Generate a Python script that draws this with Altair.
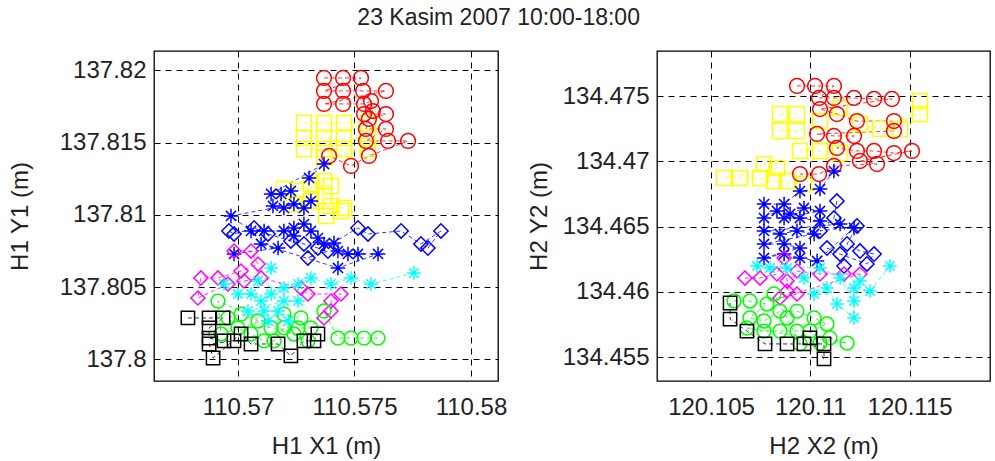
import altair as alt
import pandas as pd

TITLE = "23 Kasim 2007 10:00-18:00"

# ---- H1 (left panel) values, metres ----
RED_X1 = [110.57369, 110.57451, 110.57528, 110.57369, 110.57451, 110.57537, 110.57635, 110.57369, 110.57451, 110.57541,
          110.57571, 110.57579, 110.57541, 110.57635, 110.57562, 110.57549, 110.57635, 110.57549, 110.57644, 110.57730,
          110.57562, 110.57485, 110.57391]
RED_Y1 = [137.81947, 137.81947, 137.81947, 137.81857, 137.81857, 137.81857, 137.81857, 137.81767, 137.81767, 137.81767,
          137.81787, 137.81718, 137.81697, 137.81697, 137.81663, 137.81594, 137.81594, 137.81511, 137.81511, 137.81511,
          137.81407, 137.81338, 137.81407]

YEL_X1 = [110.57283, 110.57369, 110.57455, 110.57558, 110.57283, 110.57369, 110.57455, 110.57558, 110.57283, 110.57369,
          110.57455, 110.57558, 110.57369, 110.57369, 110.57313, 110.57399, 110.57197, 110.57270, 110.57369, 110.57313,
          110.57399, 110.57455, 110.57240, 110.57442, 110.57378]
YEL_Y1 = [137.81635, 137.81635, 137.81635, 137.81635, 137.81531, 137.81531, 137.81531, 137.81531, 137.81455, 137.81455,
          137.81455, 137.81455, 137.81393, 137.81234, 137.81213, 137.81199, 137.81178, 137.81165, 137.81130, 137.81095,
          137.81061, 137.81047, 137.81075, 137.81026, 137.80992]

BST_X1 = [110.57305, 110.57369, 110.57142, 110.57185, 110.57227, 110.57150, 110.57197, 110.57240, 110.57283, 110.57313,
          110.56970, 110.57056, 110.57112, 110.57197, 110.57240, 110.57240, 110.57283, 110.57313, 110.57343, 110.57369,
          110.57412, 110.57429, 110.57472, 110.57515, 110.57601, 110.57429, 110.57099, 110.57172, 110.56983]
BST_Y1 = [137.81255, 137.81351, 137.81144, 137.81144, 137.81165, 137.81061, 137.81047, 137.81075, 137.81047, 137.81095,
          137.80992, 137.80888, 137.80888, 137.80888, 137.80909, 137.80853, 137.80936, 137.80888, 137.80839, 137.80798,
          137.80805, 137.80749, 137.80729, 137.80729, 137.80729, 137.80632, 137.80798, 137.80770, 137.80729]

BDI_X1 = [110.56961, 110.56983, 110.57069, 110.57129, 110.57227, 110.57283, 110.57343, 110.57386, 110.57300, 110.57515,
          110.57558, 110.57700, 110.57785, 110.57871, 110.57815]
BDI_Y1 = [137.80888, 137.80867, 137.80909, 137.80867, 137.80819, 137.80798, 137.80770, 137.80749, 137.80701, 137.80909,
          137.80867, 137.80888, 137.80798, 137.80888, 137.80770]

MAG_X1 = [110.56983, 110.57056, 110.57086, 110.57013, 110.56914, 110.56841, 110.56828, 110.56957, 110.57026, 110.57099,
          110.57270, 110.57300, 110.57442, 110.57399, 110.57399, 110.57369]
MAG_Y1 = [137.80749, 137.80749, 137.80659, 137.80611, 137.80563, 137.80563, 137.80424, 137.80521, 137.80542, 137.80563,
          137.80493, 137.80452, 137.80452, 137.80403, 137.80334, 137.80286]

CYA_X1 = [110.57755, 110.57571, 110.57485, 110.57399, 110.57313, 110.57258, 110.57197, 110.57142, 110.57099, 110.57056,
          110.57000, 110.56940, 110.57086, 110.57142, 110.57112, 110.57172, 110.57215, 110.57129, 110.57043, 110.57197,
          110.57258]
CYA_Y1 = [137.80597, 137.80521, 137.80563, 137.80521, 137.80563, 137.80521, 137.80493, 137.80452, 137.80403, 137.80452,
          137.80452, 137.80521, 137.80542, 137.80632, 137.80334, 137.80334, 137.80265, 137.80265, 137.80334, 137.80403,
          137.80403]

GRN_X1 = [110.57601, 110.57541, 110.57485, 110.57429, 110.57369, 110.57313, 110.57258, 110.57197, 110.57155, 110.57112,
          110.57056, 110.57000, 110.56957, 110.57013, 110.57086, 110.57142, 110.57240, 110.57300, 110.56914, 110.56927,
          110.57197, 110.57270]
GRN_Y1 = [137.80147, 137.80147, 137.80147, 137.80147, 137.80334, 137.80217, 137.80217, 137.80217, 137.80127, 137.80127,
          137.80175, 137.80217, 137.80286, 137.80313, 137.80265, 137.80217, 137.80175, 137.80127, 137.80403, 137.80175,
          137.80313, 137.80286]

BLK_X1 = [110.56785, 110.56876, 110.56936, 110.56876, 110.56876, 110.56940, 110.56983, 110.56876, 110.56893, 110.57013,
          110.57056, 110.57172, 110.57227, 110.57283, 110.57326, 110.57343]
BLK_Y1 = [137.80286, 137.80286, 137.80286, 137.80217, 137.80147, 137.80127, 137.80127, 137.80106, 137.80009, 137.80175,
          137.80106, 137.80106, 137.80023, 137.80127, 137.80127, 137.80175]

# ---- H2 (right panel) values, metres ----
RED_X2 = [120.10933, 120.11024, 120.11119, 120.11044, 120.11119, 120.11220, 120.11321, 120.11411, 120.11049, 120.11134,
          120.11235, 120.11421, 120.11421, 120.11034, 120.11119, 120.11220, 120.11134, 120.11235, 120.11321, 120.11421,
          120.11512, 120.11250, 120.11336, 120.11119, 120.11044, 120.10948]
RED_Y2 = [134.47577, 134.47577, 134.47577, 134.47485, 134.47485, 134.47485, 134.47477, 134.47477, 134.47400, 134.47362,
          134.47308, 134.47308, 134.47232, 134.47209, 134.47194, 134.47194, 134.47102, 134.47079, 134.47079, 134.47063,
          134.47079, 134.47002, 134.46979, 134.46964, 134.46902, 134.46902]

YEL_X2 = [120.10847, 120.10933, 120.10847, 120.10933, 120.11049, 120.11150, 120.11250, 120.11351, 120.11452, 120.11552,
          120.11552, 120.10948, 120.11049, 120.11150, 120.10767, 120.10832, 120.10565, 120.10646, 120.10747, 120.10817,
          120.10883, 120.10968]
YEL_Y2 = [134.47362, 134.47362, 134.47232, 134.47232, 134.47308, 134.47408, 134.47285, 134.47247, 134.47247, 134.47462,
          134.47362, 134.47079, 134.47079, 134.47063, 134.46979, 134.46948, 134.46872, 134.46872, 134.46872, 134.46849,
          134.46849, 134.46826]

BST_X2 = [120.11119, 120.11049, 120.10948, 120.10868, 120.10767, 120.10767, 120.10832, 120.10898, 120.10968, 120.11049,
          120.10868, 120.10948, 120.11049, 120.11150, 120.10767, 120.10847, 120.10933, 120.11019, 120.10767, 120.10868,
          120.10948, 120.10767, 120.10868, 120.10948, 120.11034, 120.11220]
BST_Y2 = [134.46925, 134.46787, 134.46772, 134.46672, 134.46672, 134.46565, 134.46619, 134.46596, 134.46642, 134.46619,
          134.46565, 134.46565, 134.46542, 134.46519, 134.46466, 134.46443, 134.46466, 134.46443, 134.46366, 134.46366,
          134.46335, 134.46259, 134.46289, 134.46259, 134.46236, 134.46489]

BDI_X2 = [120.11134, 120.11119, 120.11049, 120.11235, 120.11185, 120.11250, 120.11321, 120.11285, 120.11150, 120.11084,
          120.11170]
BDI_Y2 = [134.46695, 134.46565, 134.46466, 134.46504, 134.46366, 134.46312, 134.46289, 134.46213, 134.46289, 134.46335,
          134.46197]

MAG_X2 = [120.10671, 120.10747, 120.10832, 120.10868, 120.10883, 120.10883, 120.10933, 120.11049, 120.11170, 120.11250,
          120.10847, 120.10933]
MAG_Y2 = [134.46105, 134.46105, 134.46136, 134.46259, 134.46082, 134.46006, 134.46159, 134.46136, 134.46136, 134.46136,
          134.45952, 134.45983]

CYA_X2 = [120.11401, 120.11301, 120.11220, 120.11220, 120.11134, 120.11084, 120.11019, 120.10968, 120.10883, 120.10797,
          120.10732, 120.11049, 120.11150, 120.11220, 120.11250]
CYA_Y2 = [134.46197, 134.46006, 134.46029, 134.45799, 134.45906, 134.46029, 134.45983, 134.46105, 134.46182, 134.46182,
          134.46197, 134.46182, 134.46105, 134.45929, 134.46082]

GRN_X2 = [120.10616, 120.10696, 120.10782, 120.10696, 120.10767, 120.10847, 120.10933, 120.11019, 120.11084, 120.10998,
          120.10933, 120.10847, 120.10767, 120.10681, 120.11185, 120.11099, 120.11049, 120.10948, 120.10883, 120.10817]
GRN_Y2 = [134.45929, 134.45929, 134.45906, 134.45799, 134.45776, 134.45852, 134.45852, 134.45799, 134.45753, 134.45699,
          134.45699, 134.45699, 134.45699, 134.45722, 134.45607, 134.45646, 134.45607, 134.45600, 134.45799, 134.45983]

BLK_X2 = [120.10596, 120.10596, 120.10681, 120.10772, 120.10883, 120.10968, 120.11069, 120.11069, 120.10998]
BLK_Y2 = [134.45914, 134.45791, 134.45699, 134.45600, 134.45600, 134.45600, 134.45600, 134.45485, 134.45646]

# ---- axes ----
X1_TICKS = [110.57, 110.575, 110.58]
Y1_TICKS = [137.8, 137.805, 137.81, 137.815, 137.82]
X2_TICKS = [120.105, 120.11, 120.115]
Y2_TICKS = [134.455, 134.46, 134.465, 134.47, 134.475]
X1_DOMAIN = [110.566395, 110.581159]
Y1_DOMAIN = [137.798498, 137.821334]
X2_DOMAIN = [120.102281, 120.119048]
Y2_DOMAIN = [134.453161, 134.478449]

# ---- series styles (drawing order) ----
SERIES = ["yellow_sq", "red_o", "blue_star", "blue_dia", "magenta_dia", "green_o", "cyan_star", "black_sq"]
COLORS = ["#FFFF00", "#FF0000", "#0000FF", "#0000FF", "#FF00FF", "#00FF00", "#00FFFF", "#000000"]
STAR = "M-1,0L1,0M0,-1L0,1M-0.7,-0.7L0.7,0.7M-0.7,0.7L0.7,-0.7"
SHAPES = ["square", "circle", STAR, "diamond", "diamond", "circle", STAR, "square"]
SIZES = [225, 177, 300, 256, 256, 177, 300, 225]

PANEL1 = {"yellow_sq": (YEL_X1, YEL_Y1), "red_o": (RED_X1, RED_Y1), "blue_star": (BST_X1, BST_Y1),
          "blue_dia": (BDI_X1, BDI_Y1), "magenta_dia": (MAG_X1, MAG_Y1), "green_o": (GRN_X1, GRN_Y1),
          "cyan_star": (CYA_X1, CYA_Y1), "black_sq": (BLK_X1, BLK_Y1)}
PANEL2 = {"yellow_sq": (YEL_X2, YEL_Y2), "red_o": (RED_X2, RED_Y2), "blue_star": (BST_X2, BST_Y2),
          "blue_dia": (BDI_X2, BDI_Y2), "magenta_dia": (MAG_X2, MAG_Y2), "green_o": (GRN_X2, GRN_Y2),
          "cyan_star": (CYA_X2, CYA_Y2), "black_sq": (BLK_X2, BLK_Y2)}


def to_frame(panel):
    rows = []
    for s in SERIES:
        xs, ys = panel[s]
        for i, (x, y) in enumerate(zip(xs, ys)):
            rows.append({"s": s, "i": i, "x": x, "y": y})
    return pd.DataFrame(rows)


FONT = "Liberation Sans"
FS = 24


def panel(df, xdom, ydom, xticks, yticks, xtitle, ytitle, width, height, ytitle_x):
    x = alt.X("x:Q", scale=alt.Scale(domain=xdom, nice=False, zero=False),
              axis=alt.Axis(values=xticks, title=xtitle, format=".6~g", grid=True, ticks=False, domain=False,
                            labelPadding=14, titleY=72, titleBaseline="alphabetic"))
    y = alt.Y("y:Q", scale=alt.Scale(domain=ydom, nice=False, zero=False),
              axis=alt.Axis(values=yticks, title=ytitle, format=".6~g", grid=True, ticks=False, domain=False,
                            labelPadding=8, titleX=ytitle_x, titleY=height / 2, titleAngle=-90,
                            titleAlign="center", titleBaseline="middle"))
    color = alt.Color("s:N", scale=alt.Scale(domain=SERIES, range=COLORS), legend=None)
    base = alt.Chart(df)
    lines = base.mark_line(strokeWidth=0.8, strokeDash=[4, 3], clip=True).encode(
        x=x, y=y, color=color, detail="s:N", order="i:Q")
    points = base.mark_point(filled=False, strokeWidth=1.5, opacity=1, clip=True).encode(
        x=x, y=y, color=color,
        shape=alt.Shape("s:N", scale=alt.Scale(domain=SERIES, range=SHAPES), legend=None),
        size=alt.Size("s:O", scale=alt.Scale(domain=SERIES, range=SIZES), legend=None))
    return alt.layer(lines, points).properties(width=width, height=height)


left = panel(to_frame(PANEL1), X1_DOMAIN, Y1_DOMAIN, X1_TICKS, Y1_TICKS, "H1 X1 (m)", "H1 Y1 (m)", 344, 330, -134)
right = panel(to_frame(PANEL2), X2_DOMAIN, Y2_DOMAIN, X2_TICKS, Y2_TICKS, "H2 X2 (m)", "H2 Y2 (m)", 333, 330, -118)

chart = alt.hconcat(left, right, spacing=18).properties(
    title=alt.TitleParams(TITLE, fontSize=23, font=FONT, fontWeight="normal", color="#222222",
                          anchor="start", dx=350, offset=20),
    padding={"left": 7, "top": 7, "right": 0, "bottom": 0},
    background="white",
).configure_view(
    stroke="black", strokeWidth=1.3
).configure_axis(
    labelFont=FONT, labelFontSize=FS, labelColor="#222222",
    titleFont=FONT, titleFontSize=FS, titleColor="#222222", titleFontWeight="normal",
    gridColor="black", gridDash=[6, 5], gridWidth=1, gridOpacity=1,
)

chart.save("out.html", embed_options={"renderer": "svg", "actions": False})
